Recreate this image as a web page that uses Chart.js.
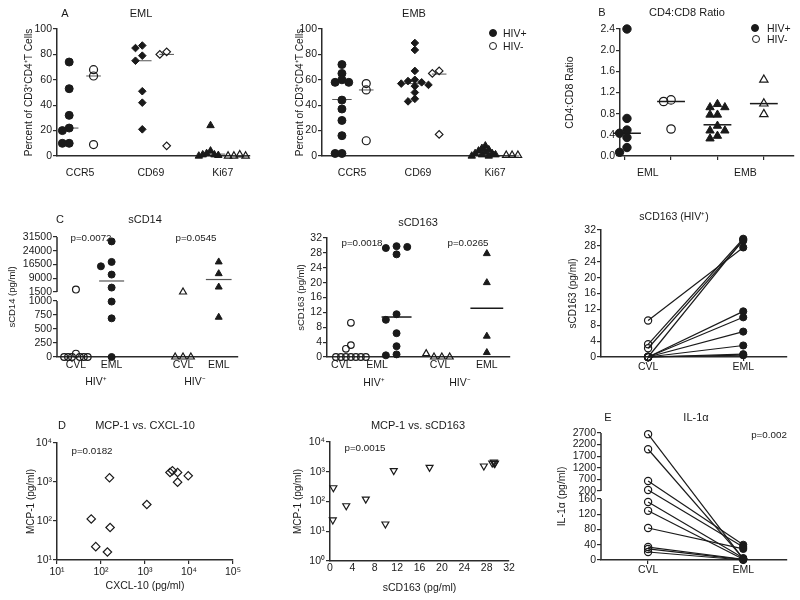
<!DOCTYPE html>
<html>
<head>
<meta charset="utf-8">
<script src="https://cdn.jsdelivr.net/npm/chart.js@4"></script>
<style>
  body { margin: 0; width: 800px; height: 600px; position: relative; overflow: hidden; background: #fff;
         font-family: "Liberation Sans", Arial, sans-serif; color: #1a1a1a; }
  canvas { position: absolute; }
  .t { position: absolute; transform: translate(-50%, -50%); white-space: nowrap; }
</style>
</head>
<body>
<script>
// ---- A: EML / EMB, percent of CD3+CD4+ T cells
const cellMarkers = ['CCR5', 'CD69', 'Ki67'];
const pctTicks = [0, 20, 40, 60, 80, 100];
const emlCcr5Pos = [74, 53, 32, 22, 20, 10, 10];
const emlCcr5Neg = [68, 63, 9];
const emlCd69Pos = [87, 85, 79, 75, 51, 42, 21];
const emlCd69Neg = [82, 80, 8];
const emlKi67Pos = [24, 4, 2, 1, 1, 0.5, 0];
const emlKi67Neg = [1, 0, 0, 0];
const emlMedianPos = [22, 75, 1.5];
const emlMedianNeg = [63, 80, 0];

const embCcr5Pos = [72, 65, 60, 58, 58, 44, 37, 28, 16, 2, 2];
const embCcr5Neg = [57, 52, 12];
const embCd69Pos = [89, 83.5, 67, 60, 59, 58, 57, 56, 55, 50, 45, 43];
const embCd69Neg = [67, 65, 17];
const embKi67Pos = [8, 6, 5, 4, 3, 2, 2, 1, 1, 0, 0];
const embKi67Neg = [0.5, 0.5, 0.5];
const embMedianPos = [44.5, 57, 3.5];
const embMedianNeg = [52, 64.5, 0];

// ---- B: CD4:CD8 ratio
const ratioGroups = ['EML', 'EMB'];
const ratioTicks = [0, 0.4, 0.8, 1.2, 1.6, 2.0, 2.4];
const ratioEmlPos = [2.4, 0.71, 0.49, 0.43, 0.35, 0.16, 0.07];
const ratioEmlNeg = [1.06, 1.03, 0.51];
const ratioEmbPos = [0.98, 0.92, 0.92, 0.78, 0.78, 0.57, 0.48, 0.48, 0.38, 0.33];
const ratioEmbNeg = [1.44, 0.99, 0.79];
const ratioMedianPos = [0.43, 0.59];
const ratioMedianNeg = [1.03, 0.99];

// ---- C: sCD14, sCD163
const sampleCols = ['CVL', 'EML'];
const cd14Ticks = [0, 250, 500, 750, 1000, 1500, 9000, 16500, 24000, 31500];
const cd14CvlPos = [2800, 60, 0, 0, 0, 0, 0, 0];
const cd14EmlPos = [29100, 17900, 15500, 11000, 3900, 990, 690, 0];
const cd14CvlNeg = [1500, 0, 0, 0];
const cd14EmlNeg = [17900, 11500, 4200, 710];
const cd14Median = [7500, 8300];

const cd163Ticks = [0, 4, 8, 12, 16, 20, 24, 28, 32];
const cd163CvlPos = [9.2, 3.2, 2.2, 0, 0, 0, 0, 0, 0, 0];
const cd163EmlPos = [27.6, 29.8, 29.3, 29.6, 11.5, 10, 6.4, 2.9, 0.7, 0.45];
const cd163CvlNeg = [0, 0, 0, 0.9];
const cd163EmlNeg = [27.8, 20, 5.6, 1.2];
const cd163Median = [10.75, 13.1];

// ---- D: MCP-1 correlations
const logTicksX = [10, 100, 1000, 10000, 100000];
const logLabelsX = ['10¹', '10²', '10³', '10⁴', '10⁵'];
const logTicksY = [1, 10, 100, 1000, 10000];
const logLabelsY = ['10⁰', '10¹', '10²', '10³', '10⁴'];
const cxcl10 = [60, 76, 140, 156, 161, 1100, 3700, 4200, 5500, 5500, 9600];
const mcp1VsCxcl = [113, 22, 16, 1280, 68, 265, 1760, 1950, 1760, 990, 1440];
const cd163ForMcp = [0.5, 0.6, 2.9, 6.4, 9.9, 11.4, 17.8, 27.5, 29.0, 29.3, 29.5, 29.4];
const mcp1VsCd163 = [24, 290, 72, 120, 17.5, 1090, 1400, 1560, 1970, 2130, 1970, 1870];

// ---- E: IL-1a
const il1Ticks = [0, 40, 80, 120, 160, 200, 700, 1200, 1700, 2200, 2700];
const il1Cvl = [2650, 2000, 630, 245, 152, 129, 84, 34, 29, 21];
const il1Eml = [3, 4, 40, 34, 5, 2, 29, 2, 1, 0];

// ------------------------------------------------------------------
Chart.defaults.font.family = '"Liberation Sans", Arial, sans-serif';
Chart.defaults.font.size = 10.5;
Chart.defaults.color = '#1a1a1a';
const INK = '#1a1a1a', AX = '#2b2b2b';

// piecewise mapping for the broken y axes
function piecewise(knots) {
  return v => {
    for (let i = 1; i < knots.length; i++) {
      if (v <= knots[i][0] || i === knots.length - 1) {
        const [a, da] = knots[i - 1], [b, db] = knots[i];
        return da + (v - a) / (b - a) * (db - da);
      }
    }
  };
}
const cd14Map = piecewise([[0, 0], [1000, 4], [1500, 4.643], [31500, 8.57]]);
const il1Map = piecewise([[0, 0], [160, 4], [200, 4.525], [2700, 8.33]]);

// simple column scatter so overlapping points sit side by side
function swarm(vals, cx, yTol, step, map) {
  const placed = [];
  return vals.map(v0 => {
    const v = map ? map(v0) : v0;
    for (let k = 0; ; k++) {
      const x = cx + (k === 0 ? 0 : (k % 2 ? -1 : 1) * Math.ceil(k / 2) * step);
      if (!placed.some(p => Math.abs(p.x - x) < step * 0.99 && Math.abs(p.y - v) < yTol)) {
        placed.push({ x, y: v });
        return { x, y: v };
      }
    }
  });
}

function pts(data, style, filled, r, rot) {
  const fill = filled ? INK : 'rgba(0,0,0,0)';
  return { data, pointStyle: style, pointRadius: r, pointRotation: rot || 0,
    pointBorderWidth: filled ? 1 : 1.2, pointBackgroundColor: fill, backgroundColor: fill,
    pointBorderColor: INK, borderColor: INK, showLine: false, clip: false };
}
function seg(a, b, color, w) {
  return { data: [a, b], showLine: true, pointRadius: 0, borderColor: color, borderWidth: w, clip: false };
}
function median(cx, half, m, color, w) {
  return seg({ x: cx - half, y: m }, { x: cx + half, y: m }, color, w);
}

function axis(o) {
  const marks = o.marks || 'all';
  return {
    type: o.type || 'linear', min: o.min, max: o.max,
    afterBuildTicks: s => { s.ticks = o.ticks.map(v => ({ value: v })); },
    ticks: { autoSkip: false, maxRotation: 0, padding: o.pad ?? 1, font: { size: o.fs || 10.5 }, color: INK,
      callback: (v, i) => o.labels ? o.labels[i] : String(v) },
    grid: { display: marks !== 'none', drawOnChartArea: false, drawTicks: o.tl !== 0, tickLength: o.tl ?? 4,
      lineWidth: 1.2, color: AX,
      tickColor: c => (marks === 'blank' && c.tick && c.tick.label !== '') ? 'rgba(0,0,0,0)' : AX },
    border: { display: !o.noBorder, color: AX, width: 1.5 }
  };
}

const brokenAxis = {
  id: 'brokenAxis',
  beforeDatasetsDraw(chart, args, opts) {
    if (!opts.segments) return;
    const { ctx, scales: { y }, chartArea } = chart;
    ctx.save();
    ctx.strokeStyle = AX; ctx.lineWidth = 1.5;
    opts.segments.forEach(([a, b]) => {
      ctx.beginPath();
      ctx.moveTo(chartArea.left, y.getPixelForValue(a));
      ctx.lineTo(chartArea.left, y.getPixelForValue(b));
      ctx.stroke();
    });
    ctx.restore();
  }
};
Chart.register(brokenAxis);

function panel(o) {
  const [x0, y0, x1, y1] = o.area;
  const fs = o.yTitleSize || 10.5;
  const L = Math.round(o.yTitleX - 0.6 * fs);
  const T = y0 - 14;
  const cv = document.createElement('canvas');
  cv.width = o.right - L; cv.height = o.bottom - T;
  cv.style.left = L + 'px'; cv.style.top = T + 'px';
  document.body.appendChild(cv);
  const yW = x0 - L, xH = o.bottom - y1;
  o.x.afterFit = s => { s.height = xH; s.paddingLeft = 0; s.paddingRight = 0; };
  o.y.afterFit = s => { s.width = yW; s.paddingTop = 0; s.paddingBottom = 0; };
  o.y.title = { display: true, text: o.yTitle, padding: 0, color: INK, font: { size: fs } };
  if (o.xTitle) o.x.title = { display: true, text: o.xTitle, padding: 0, color: INK, font: { size: 10.5 } };
  new Chart(cv, {
    type: 'scatter',
    data: { datasets: o.datasets },
    options: {
      responsive: false, animation: false, events: [],
      layout: { padding: { left: 0, top: 14, right: o.right - x1, bottom: 0 } },
      plugins: { legend: { display: false }, tooltip: { enabled: false }, brokenAxis: { segments: o.segments || null } },
      scales: { x: o.x, y: o.y }
    }
  });
}

function text(s, x, y, size, left) {
  const d = document.createElement('div');
  d.className = 't'; d.textContent = s;
  d.style.left = x + 'px'; d.style.top = y + 'px'; d.style.fontSize = size + 'px';
  if (left) d.style.transform = 'translate(0,-50%)';
  document.body.appendChild(d);
}
function dot(x, y, filled) {
  const d = document.createElement('div');
  Object.assign(d.style, { position: 'absolute', left: (x - 4) + 'px', top: (y - 4) + 'px', width: '8px', height: '8px',
    borderRadius: '50%', boxSizing: 'border-box', border: '1.2px solid ' + INK, background: filled ? INK : 'transparent' });
  document.body.appendChild(d);
}

const pctTitle = 'Percent of CD3⁺CD4⁺T Cells';
const G1 = '#555';

// EML
{
  const sw = (v, c, s) => swarm(v, c, 5, s || 0.28);
  panel({
    area: [57, 29, 250, 156], yTitleX: 29.5, yTitleSize: 10.2, right: 262, bottom: 185, yTitle: pctTitle,
    x: axis({ min: 0.5, max: 8.42, ticks: [1.45, 4.35, 7.3], labels: cellMarkers, tl: 0, pad: 10.7, marks: 'none' }),
    y: axis({ min: 0, max: 100, ticks: pctTicks }),
    datasets: [
      pts(sw(emlCcr5Pos, 1), 'circle', true, 4), pts(sw(emlCcr5Neg, 2), 'circle', false, 4),
      pts(sw(emlCd69Pos, 4), 'rectRot', true, 3.8), pts(sw(emlCd69Neg, 5), 'rectRot', false, 3.8),
      pts(sw(emlKi67Pos, 6.8, 0.16), 'triangle', true, 4.3), pts(sw(emlKi67Neg, 8, 0.24), 'triangle', false, 4.3),
      ...[1, 4, 6.9].map((c, i) => median(c, i === 2 ? 0.5 : 0.38, emlMedianPos[i], G1, 1)),
      ...[2, 5, 8].map((c, i) => median(c, 0.3, emlMedianNeg[i], G1, 1))
    ]
  });
}
// EMB
{
  const sw = (v, c, s) => swarm(v, c, 5, s || 0.28);
  panel({
    area: [322, 29, 515, 156], yTitleX: 300.5, yTitleSize: 10.2, right: 527, bottom: 185, yTitle: pctTitle,
    x: axis({ min: 0.18, max: 8.12, ticks: [1.42, 4.13, 7.3], labels: cellMarkers, tl: 0, pad: 10.7, marks: 'none' }),
    y: axis({ min: 0, max: 100, ticks: pctTicks }),
    datasets: [
      pts(sw(embCcr5Pos, 1), 'circle', true, 4), pts(sw(embCcr5Neg, 2), 'circle', false, 4),
      pts(sw(embCd69Pos, 4), 'rectRot', true, 3.8), pts(sw(embCd69Neg, 5), 'rectRot', false, 3.8),
      pts(sw(embKi67Pos, 6.9, 0.14), 'triangle', true, 4.3), pts(sw(embKi67Neg, 8, 0.24), 'triangle', false, 4.3),
      ...[1, 4, 6.9].map((c, i) => median(c, 0.4, embMedianPos[i], G1, 1)),
      ...[2, 5, 8].map((c, i) => median(c, 0.3, embMedianNeg[i], G1, 1))
    ]
  });
}
// CD4:CD8
{
  const sw = (v, c) => swarm(v, c, 0.13, 0.16);
  panel({
    area: [620, 29, 800, 156], yTitleX: 570, right: 800, bottom: 185, yTitle: 'CD4:CD8 Ratio',
    x: axis({ min: 0.9, max: 4.65, ticks: [1, 1.5, 2, 3, 3.6, 4], labels: ['', ratioGroups[0], '', '', ratioGroups[1], ''], tl: 4, pad: 7, marks: 'blank' }),
    y: axis({ min: 0, max: 2.4, ticks: ratioTicks, labels: ratioTicks.map(v => v.toFixed(1)) }),
    datasets: [
      pts(sw(ratioEmlPos, 1.05), 'circle', true, 4.2), pts(sw(ratioEmlNeg, 2), 'circle', false, 4.2),
      pts(sw(ratioEmbPos, 3), 'triangle', true, 4.8), pts(sw(ratioEmbNeg, 4), 'triangle', false, 4.8),
      ...[1.05, 3].map((c, i) => median(c, 0.3, ratioMedianPos[i], INK, 1.5)),
      ...[2, 4].map((c, i) => median(c, 0.3, ratioMedianNeg[i], INK, 1.5))
    ]
  });
}
// sCD14 (broken axis)
{
  const sw = (v, c, s) => swarm(v, c, 0.5, s, cd14Map);
  panel({
    area: [57, 237, 238, 357], yTitleX: 13, yTitleSize: 9.5, right: 250, bottom: 375, yTitle: 'sCD14 (pg/ml)',
    x: axis({ min: 0.47, max: 5.54, ticks: [1, 2, 4, 5], labels: [...sampleCols, ...sampleCols], tl: 0, pad: 1.5, marks: 'none' }),
    y: axis({ min: 0, max: cd14Map(31500), ticks: cd14Ticks.map(cd14Map), labels: cd14Ticks.map(String), noBorder: true }),
    segments: [[0, cd14Map(1000)], [cd14Map(1500), cd14Map(31500)]],
    datasets: [
      pts(sw(cd14CvlPos, 1, 0.11), 'circle', false, 3.4), pts(sw(cd14EmlPos, 2, 0.3), 'circle', true, 3.5),
      pts(sw(cd14CvlNeg, 4, 0.22), 'triangle', false, 4), pts(sw(cd14EmlNeg, 5, 0.3), 'triangle', true, 4),
      median(2, 0.35, cd14Map(cd14Median[0]), G1, 1.2), median(5, 0.36, cd14Map(cd14Median[1]), G1, 1.2)
    ]
  });
}
// sCD163
{
  const sw = (v, c, s) => swarm(v, c, 2, s);
  panel({
    area: [327, 238, 510, 357], yTitleX: 302, yTitleSize: 9.5, right: 522, bottom: 375, yTitle: 'sCD163 (pg/ml)',
    x: axis({ min: 0.6, max: 5.73, ticks: [1, 2, 3.77, 5.08], labels: [...sampleCols, ...sampleCols], tl: 0, pad: 1.5, marks: 'none' }),
    y: axis({ min: 0, max: 32, ticks: cd163Ticks }),
    datasets: [
      pts(sw(cd163CvlPos, 1.27, 0.14), 'circle', false, 3.3), pts(sw(cd163EmlPos, 2.55, 0.3), 'circle', true, 3.5),
      pts(sw(cd163CvlNeg, 3.82, 0.22), 'triangle', false, 4), pts(sw(cd163EmlNeg, 5.08, 0.3), 'triangle', true, 4),
      median(2.55, 0.42, cd163Median[0], INK, 1.5), median(5.08, 0.46, cd163Median[1], INK, 1.5)
    ]
  });
}
// sCD163 (HIV+) paired
panel({
  area: [601, 230, 787, 357], yTitleX: 573, yTitleSize: 10, right: 795, bottom: 378, yTitle: 'sCD163 (pg/ml)',
  x: axis({ min: 0.505, max: 2.46, ticks: [1, 2], labels: sampleCols, tl: 4, pad: -0.5 }),
  y: axis({ min: 0, max: 32, ticks: cd163Ticks }),
  datasets: [
    pts(cd163CvlPos.map(v => ({ x: 1, y: v })), 'circle', false, 3.6),
    pts(cd163EmlPos.map(v => ({ x: 2, y: v })), 'circle', true, 3.6),
    ...cd163CvlPos.map((v, i) => seg({ x: 1, y: v }, { x: 2, y: cd163EmlPos[i] }, INK, 1.2))
  ]
});
// MCP-1 vs CXCL-10
panel({
  area: [57, 443, 233, 560], yTitleX: 31, yTitleSize: 10, right: 245, bottom: 592, yTitle: 'MCP-1 (pg/ml)',
  xTitle: 'CXCL-10 (pg/ml)',
  x: axis({ type: 'logarithmic', min: 10, max: 100000, ticks: logTicksX, labels: logLabelsX, tl: 4, pad: 1.4 }),
  y: axis({ type: 'logarithmic', min: 10, max: 10000, ticks: logTicksY.slice(1), labels: logLabelsY.slice(1) }),
  datasets: [pts(cxcl10.map((v, i) => ({ x: v, y: mcp1VsCxcl[i] })), 'rectRot', false, 4.2)]
});
// MCP-1 vs sCD163
panel({
  area: [330, 442, 509, 561], yTitleX: 298, yTitleSize: 10, right: 520, bottom: 594, yTitle: 'MCP-1 (pg/ml)',
  xTitle: 'sCD163 (pg/ml)',
  x: axis({ min: 0, max: 32, ticks: cd163Ticks, tl: 0, pad: 1, marks: 'none' }),
  y: axis({ type: 'logarithmic', min: 1, max: 10000, ticks: logTicksY, labels: logLabelsY }),
  datasets: [pts(cd163ForMcp.map((v, i) => ({ x: v, y: mcp1VsCd163[i] })), 'triangle', false, 4, 180)]
});
// IL-1a paired (broken axis)
panel({
  area: [601, 433, 787, 560], yTitleX: 562, yTitleSize: 10.5, right: 795, bottom: 582, yTitle: 'IL-1α (pg/ml)',
  x: axis({ min: 0.505, max: 2.46, ticks: [1, 2], labels: sampleCols, tl: 4, pad: 0 }),
  y: axis({ min: 0, max: il1Map(2700), ticks: il1Ticks.map(il1Map), labels: il1Ticks.map(String), noBorder: true }),
  segments: [[0, il1Map(160)], [il1Map(200), il1Map(2700)]],
  datasets: [
    pts(il1Cvl.map(v => ({ x: 1, y: il1Map(v) })), 'circle', false, 3.6),
    pts(il1Eml.map(v => ({ x: 2, y: il1Map(v) })), 'circle', true, 3.6),
    ...il1Cvl.map((v, i) => seg({ x: 1, y: il1Map(v) }, { x: 2, y: il1Map(il1Eml[i]) }, INK, 1.2))
  ]
});

// titles, panel letters, p-values, legends
const TF = 11, PF = 9.8;
text('A', 65, 13, TF); text('EML', 141, 13, TF);
text('EMB', 414, 13, TF);
text('B', 602, 12, TF); text('CD4:CD8 Ratio', 687, 12, TF);
text('C', 60, 219, TF); text('sCD14', 145, 219, TF);
text('p=0.0072', 91, 237, PF); text('p=0.0545', 196, 237, PF);
text('HIV⁺', 96, 381, 10.5); text('HIV⁻', 195, 381, 10.5);
text('sCD163', 418, 222, TF);
text('p=0.0018', 362, 242, PF); text('p=0.0265', 468, 242, PF);
text('HIV⁺', 374, 382, 10.5); text('HIV⁻', 460, 382, 10.5);
text('sCD163 (HIV⁺)', 674, 216, 10.5);
text('D', 62, 425, TF); text('MCP-1 vs. CXCL-10', 145, 425, TF);
text('p=0.0182', 92, 450, PF);
text('MCP-1 vs. sCD163', 418, 425, TF);
text('p=0.0015', 365, 447, PF);
text('E', 608, 417, TF); text('IL-1α', 696, 417, TF);
text('p=0.002', 769, 434, PF);

dot(493, 33, true); text('HIV+', 503, 33, 10.5, true);
dot(493, 46, false); text('HIV-', 503, 46, 10.5, true);
dot(755, 28, true); text('HIV+', 767, 28, 10.5, true);
dot(756, 39, false); text('HIV-', 767, 39, 10.5, true);
</script>
</body>
</html>
